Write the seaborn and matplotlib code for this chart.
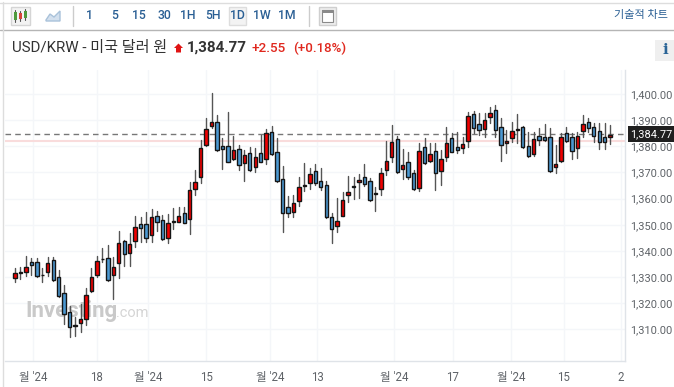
import numpy as np
import pandas as pd
import matplotlib
matplotlib.use("Agg")
import matplotlib.pyplot as plt
from matplotlib.patches import Rectangle, Polygon
import seaborn as sns

highs = [1333.3,1333.7,1338.0,1337.4,1337.1,1333.3,1337.5,1337.6,1332.7,1326.9,1318.9,1314.8,1319.7,1325.7,1333.3,1338.0,1341.3,1342.2,1337.8,1347.5,1344.1,1346.7,
 1353.5,1353.1,1355.0,1355.9,1355.3,1353.7,1354.0,1356.3,1356.9,1356.9,1366.2,1371.1,1382.4,1390.9,1400.4,1392.0,1383.0,1393.2,1383.9,1380.5,1378.5,1379.9,1379.2,1384.3,1386.6,1387.9,1383.0,
 1372.5,1361.0,1361.4,1368.1,1373.5,1371.7,1373.2,1371.7,1366.9,1354.6,1360.1,1362.6,1368.6,1368.4,1369.4,1373.2,1367.7,1364.3,1371.6,1382.2,1388.3,1383.9,1378.8,1377.8,1370.9,1381.1,1383.0,1381.1,1381.4,1378.6,1387.2,
 1384.9,1385.3,1383.7,1393.2,1393.6,1392.9,1392.9,1394.9,1395.8,1390.7,1386.2,1389.4,1392.4,1387.7,1385.6,1385.6,1386.9,1388.4,1386.9,1380.5,1385.0,1387.2,1385.0,1385.6,1392.0,1391.0,1388.8,1388.8,1388.8,1388.3]
lows = [1328.0,1329.2,1330.4,1330.8,1330.1,1328.1,1330.4,1328.6,1322.5,1312.0,1307.2,1307.6,1309.1,1311.5,1324.3,1330.1,1335.9,1328.6,1321.7,1329.7,1334.3,1334.2,
 1341.6,1343.5,1343.5,1343.5,1347.6,1344.2,1342.9,1348.2,1350.9,1350.5,1346.3,1361.4,1366.1,1380.1,1387.1,1378.3,1371.2,1373.9,1374.8,1370.9,1366.7,1370.7,1370.0,1373.9,1373.1,1376.8,1366.3,
 1347.4,1353.1,1353.1,1357.2,1363.0,1363.5,1365.2,1363.3,1352.6,1342.9,1347.4,1353.3,1358.8,1359.7,1360.1,1364.9,1359.2,1355.4,1361.2,1369.0,1373.9,1369.8,1367.4,1367.5,1363.3,1363.0,1373.2,1374.1,1363.3,1365.3,1374.5,
 1377.7,1377.3,1377.3,1379.9,1385.0,1384.3,1383.7,1388.8,1383.7,1374.5,1377.3,1381.8,1381.4,1379.5,1376.0,1376.3,1380.5,1382.0,1370.2,1369.6,1374.1,1381.8,1375.3,1375.6,1383.7,1385.6,1381.8,1378.8,1378.8,1380.9]
opens = [1329.7,1331.7,1331.9,1335.6,1335.6,1330.9,1331.9,1336.4,1329.9,1323.8,1316.7,1311.6,1312.3,1313.8,1324.5,1330.9,1337.0,1337.1,1330.6,1335.2,1343.6,1339.3,
 1343.8,1350.4,1350.4,1346.1,1353.5,1351.8,1345.1,1351.3,1351.2,1354.4,1352.1,1363.5,1368.3,1380.4,1387.8,1389.4,1380.0,1380.0,1375.0,1379.0,1373.6,1377.3,1372.0,1377.6,1375.0,1385.6,1377.9,
 1367.6,1356.7,1355.0,1359.2,1364.9,1365.8,1370.7,1366.6,1365.2,1353.1,1349.4,1353.5,1361.2,1364.8,1366.2,1368.2,1366.6,1361.6,1363.5,1370.9,1376.0,1382.7,1371.2,1374.0,1369.7,1364.2,1379.6,1374.2,1378.3,1370.7,1376.0,
 1383.0,1379.6,1379.3,1382.1,1392.2,1388.4,1386.5,1391.2,1393.7,1387.5,1381.1,1383.0,1386.4,1387.2,1380.1,1377.0,1383.8,1383.4,1383.4,1371.9,1374.5,1385.0,1383.4,1379.2,1385.7,1389.4,1387.4,1385.7,1383.4,1383.4]
closes = [1331.5,1331.9,1333.8,1334.5,1330.3,1330.7,1335.2,1328.9,1322.9,1315.7,1310.8,1311.4,1313.8,1323.0,1330.1,1336.0,1336.8,1328.9,1333.8,1342.9,1338.7,1342.6,
 1349.3,1348.9,1344.8,1353.1,1351.2,1344.4,1350.8,1351.1,1353.5,1350.8,1363.2,1366.5,1379.2,1386.5,1389.2,1378.6,1379.0,1374.0,1378.5,1372.7,1376.7,1370.9,1376.0,1374.1,1384.9,1377.1,1366.6,
 1354.4,1354.4,1358.4,1364.3,1365.0,1369.3,1365.8,1364.6,1352.8,1348.2,1351.4,1359.5,1362.5,1364.6,1367.0,1365.4,1359.5,1362.1,1369.7,1374.4,1381.5,1370.0,1372.7,1368.2,1363.5,1378.3,1373.5,1377.0,1369.7,1375.0,1381.4,
 1377.9,1378.5,1380.7,1391.5,1386.9,1386.1,1390.1,1392.6,1386.2,1380.4,1382.0,1385.7,1386.6,1379.6,1376.3,1382.7,1382.4,1382.3,1370.5,1373.3,1383.7,1382.2,1378.2,1384.1,1388.4,1386.9,1384.1,1381.8,1381.8,1384.4]

y_ticks = [1310, 1320, 1330, 1340, 1350, 1360, 1370, 1380, 1390, 1400]
x_tick_pos = [3.3, 15, 24.4, 35, 46.7, 55.3, 69.4, 80.2, 90.8, 100.5, 111]
x_tick_labels = ["월 '24", "18", "월 '24", "15", "월 '24", "13", "월 '24", "17", "월 '24", "15", "2"]
last_price = 1384.77
ref_price = 1382.2
intervals = ["1", "5", "15", "30", "1H", "5H", "1D", "1W", "1M"]

W, H = 674, 387
sns.set_theme(style="white")
plt.rcParams['font.family'] = ['Roboto', 'Noto Sans CJK KR', 'DejaVu Sans']
fig = plt.figure(figsize=(W / 100, H / 100), dpi=100, facecolor="white")

bg = fig.add_axes([0, 0, 1, 1], zorder=0)
bg.set_xlim(0, W); bg.set_ylim(H, 0); bg.axis("off")

ax = fig.add_axes([5 / W, 1 - 361 / H, 620 / W, 291 / H], zorder=1)
ax.patch.set_alpha(0)
px2i = lambda px: (px - 15) / 5.46
px2v = lambda py: 1400 - (py - 94) / 2.615

df = pd.DataFrame({"i": np.arange(len(opens)), "open": opens, "high": highs, "low": lows, "close": closes})
df["up"] = df["close"] >= df["open"]
df["bottom"] = df[["open", "close"]].min(axis=1)
df["span"] = (df["open"] - df["close"]).abs().clip(lower=0.15)

# watermark
ax.text(px2i(25), px2v(311), "Investing", fontsize=16, fontweight="bold", color="#c9c9c9", va="center", ha="left", zorder=1)
ax.text(px2i(116), px2v(313), ".com", fontsize=10.5, color="#d5d5d5", va="center", ha="left", zorder=1)

ax.axhline(ref_price, color="#f9dcdc", lw=1.5, zorder=1.5)
ax.axhline(last_price, color="#777777", lw=1, dashes=(4, 3), zorder=1.6)

long = pd.concat([df[["i", "high"]].rename(columns={"high": "p"}), df[["i", "low"]].rename(columns={"low": "p"})])
sns.lineplot(data=long, x="i", y="p", units="i", estimator=None, color="#555555", lw=1, ax=ax, legend=False, zorder=2)

for up, col in [(True, "#f00000"), (False, "#4b98d2")]:
    d = df[df["up"] == up]
    sns.barplot(data=d, x="i", y="span", bottom=d["bottom"].values, native_scale=True, color=col, saturation=1,
                width=0.62, edgecolor="#151515", linewidth=1, ax=ax, zorder=3, errorbar=None, legend=False)

ax.set_xlim(px2i(5), px2i(625))
ax.set_ylim(px2v(361), px2v(70))
ax.set_yticks(y_ticks)
ax.set_yticklabels([f"{v:,.2f}" for v in y_ticks])
ax.yaxis.tick_right()
ax.set_xticks(x_tick_pos)
ax.set_xticklabels(x_tick_labels)
ax.set_xlabel(""); ax.set_ylabel("")
ax.grid(True, color="#f4f6f9", lw=1)
ax.set_axisbelow(True)
ax.tick_params(axis="y", length=0, labelsize=7.9, labelcolor="#5f6368", pad=4)
ax.tick_params(axis="x", length=0, labelsize=8.3, labelcolor="#5f6368", pad=7)
for s in ("top", "left"):
    ax.spines[s].set_visible(False)
for s in ("right", "bottom"):
    ax.spines[s].set_color("#dfe3e8"); ax.spines[s].set_linewidth(1)

ax.annotate(f"{last_price:,.2f}", xy=(1, last_price), xycoords=("axes fraction", "data"),
            xytext=(4, 0), textcoords="offset points", fontsize=7.9, color="white", va="center", ha="left",
            bbox=dict(boxstyle="square,pad=0.25", fc="#1f1f1f", ec="none"), annotation_clip=False, zorder=6)

bg.plot([0, W], [2.5, 2.5], color="#dddddd", lw=1)
bg.plot([0, W], [29.5, 29.5], color="#b5b5b5", lw=1)
bg.plot([2.5, 2.5], [2, H], color="#dddddd", lw=1)

bg.add_patch(Rectangle((10.5, 7), 19, 18, fc="#f3f3f3", ec="#d5d5d5", lw=1))
for x, t, b, c in [(15, 11, 21, "#4f9a3c"), (20, 12, 20, "#d9433a"), (25, 10, 19, "#4f9a3c")]:
    bg.plot([x, x], [t - 1, b + 1], color="#555555", lw=0.8)
    bg.add_patch(Rectangle((x - 1.5, t + 1), 3, b - t - 2, fc=c, ec="none", zorder=3))
bg.add_patch(Polygon([(46, 20), (50, 14), (54, 17), (60, 11), (60, 21), (46, 21)], fc="#d3e0ee", ec="#a9c2da", lw=1))
bg.plot([72.5, 72.5], [6, 26], color="#cccccc", lw=1)
bg.plot([308.5, 308.5], [6, 26], color="#cccccc", lw=1)
bg.add_patch(Rectangle((229, 7), 17, 18, fc="#f3f3f3", ec="#dddddd", lw=1))
for s, x in zip(intervals, [89.5, 114.5, 139, 164, 188, 213, 237.5, 262, 287]):
    bg.text(x, 15.5, s, fontsize=8.8, color="#2a5f94", fontweight="medium", ha="center", va="center")
bg.add_patch(Rectangle((319, 7), 17, 18, fc="#eeeeee", ec="#cfcfcf", lw=1))
bg.add_patch(Rectangle((322, 10), 11, 12, fc="white", ec="#8a8a8a", lw=0.8))
bg.add_patch(Rectangle((322, 10), 11, 3, fc="#8a8a8a", ec="none"))
bg.text(668, 15, "기술적 차트", fontsize=8, color="#2a5f94", ha="right", va="center")

bg.text(12, 48, "USD/KRW - 미국 달러 원", fontsize=10.9, color="#333333", ha="left", va="center")
bg.add_patch(Polygon([(178.5, 43.5), (183, 48), (181, 48), (181, 52.5), (176, 52.5), (176, 48), (174, 48)], fc="#e01414", ec="none"))
bg.text(187, 48, "1,384.77", fontsize=10.9, fontweight="bold", color="#333333", ha="left", va="center")
bg.text(252, 48, "+2.55", fontsize=9.7, fontweight="medium", color="#e0281e", ha="left", va="center")
bg.text(293, 48, "(+0.18%)", fontsize=9.5, fontweight="medium", color="#e0281e", ha="left", va="center")
bg.add_patch(Rectangle((655, 40), 19, 21, fc="#efefef", ec="none"))
bg.text(665, 50.5, "i", fontsize=11, fontweight="bold", family="DejaVu Serif", color="#2a6496", ha="center", va="center")

fig.savefig("out.png", dpi=100)
